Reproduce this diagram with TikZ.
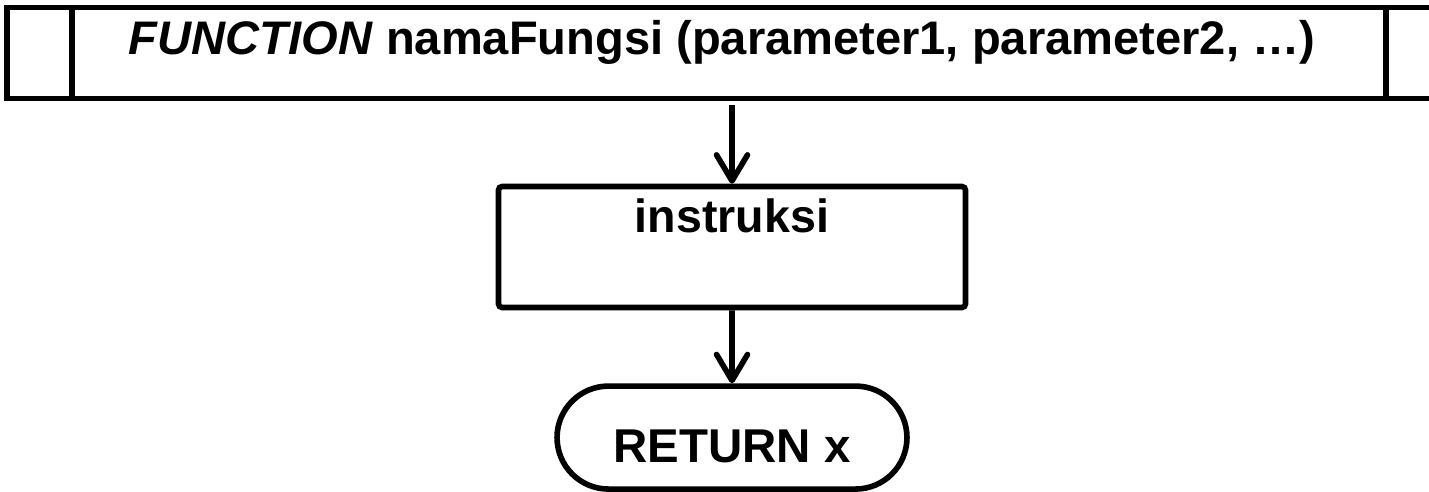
\documentclass[tikz,border=0pt]{standalone}
\usepackage{fontspec}
\setmainfont{Liberation Sans}
\usetikzlibrary{positioning, arrows.meta, shapes.misc, calc}
\tikzset{
    funcbox/.style={draw, rectangle, inner sep=0pt, minimum width=28.6cm,
      text height=0.95cm, text depth=0.87cm, font=\fontsize{26.8}{30}\selectfont\bfseries},
    procbox/.style={draw, rectangle, rounded corners=2pt, inner sep=0pt, minimum width=9.34cm,
      text height=0.93cm, text depth=1.49cm, font=\fontsize{26.5}{30}\selectfont\bfseries},
    termbox/.style={draw, rounded rectangle, inner sep=0pt, minimum width=7cm,
      text height=1.53cm, text depth=0.53cm, font=\fontsize{27}{30}\selectfont\bfseries},
    flow/.style={-{Straight Barb[length=0.52cm, width=0.62cm, round]}},
}
\begin{document}
\begin{tikzpicture}[x=0.02cm, y=-0.02cm, line width=3.2pt]
    \useasboundingbox (0,0) rectangle (1429,492);

    \node[funcbox] (func) at (722,53) {\textit{FUNCTION} namaFungsi (parameter1, parameter2, …)};
    \draw ([xshift=1.35cm]func.north west) -- ([xshift=1.35cm]func.south west);
    \draw ([xshift=-1.07cm]func.north east) -- ([xshift=-1.07cm]func.south east);

    \node[procbox, anchor=base] (instr) at (732,233) {instruksi};
    \node[termbox, below=1.46cm of instr] (ret) {RETURN x};

    \draw[flow, shorten <=0.08cm] (instr.north |- func.south) -- (instr);
    \draw[flow] (instr) -- (ret);
\end{tikzpicture}
\end{document}
